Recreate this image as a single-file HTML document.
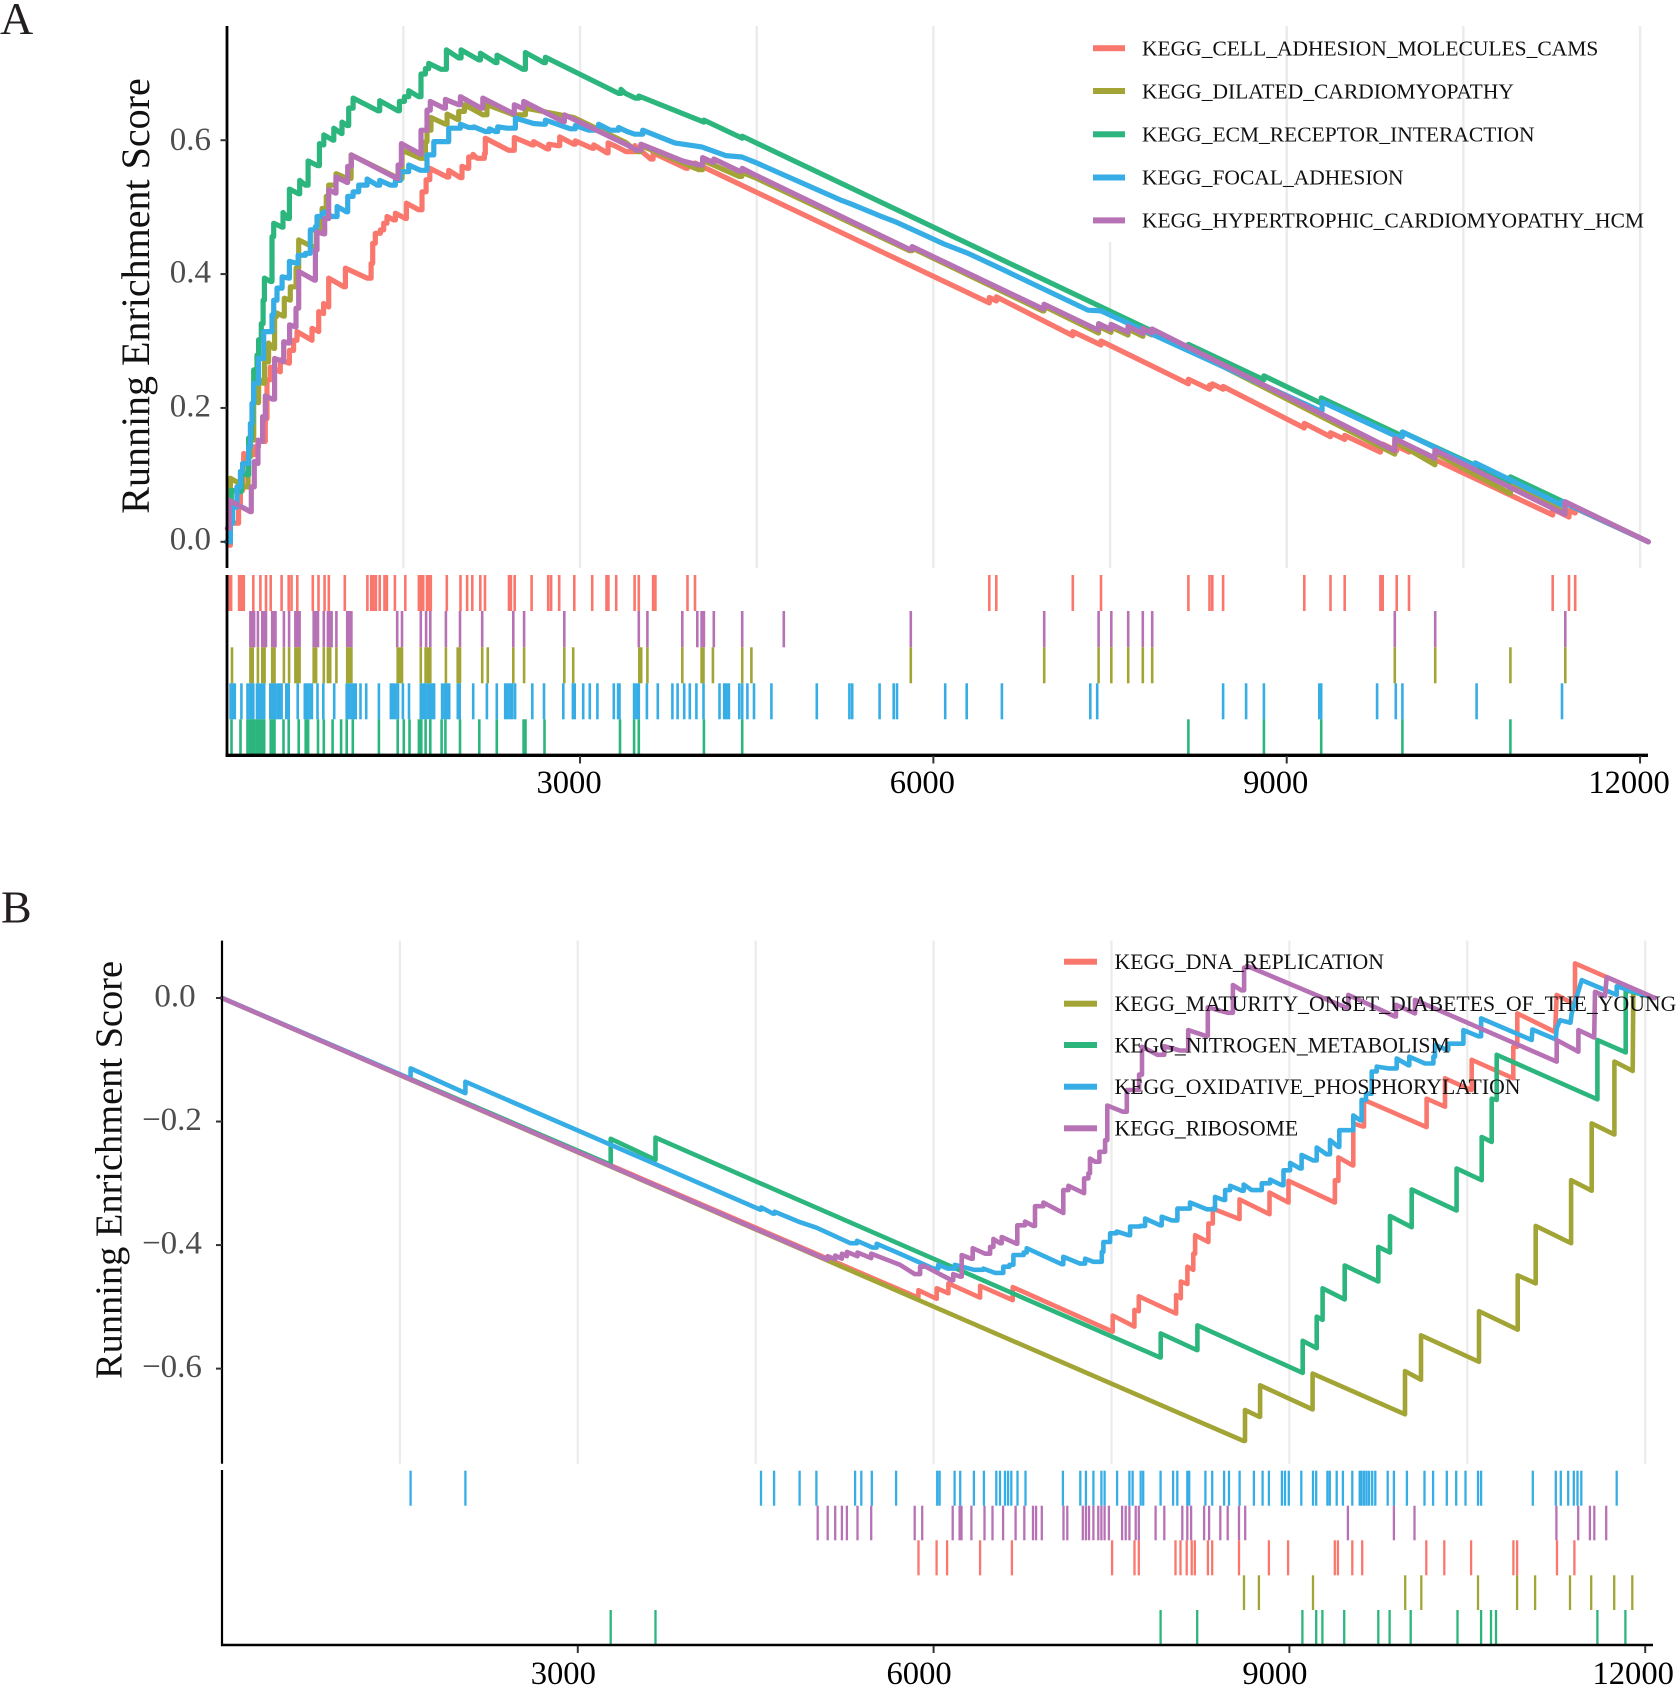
<!DOCTYPE html>
<html>
<head>
<meta charset="utf-8">
<title>GSEA running enrichment plots</title>
<style>
html,body{margin:0;padding:0;background:#fff;}
svg{display:block;font-family:"Liberation Serif",serif;}
</style>
</head>
<body>
<svg id="chart" xmlns="http://www.w3.org/2000/svg" width="1676" height="1685" viewBox="0 0 1676 1685">
<rect x="0" y="0" width="1676" height="1685" fill="#fff"/>
<g id="layer-a"></g>
<g id="layer-b"></g>

<text x="0" y="34" font-size="46" fill="#231f20">A</text>
<text x="1" y="922.5" font-size="46" fill="#231f20">B</text>
<text transform="translate(149,296) rotate(-90)" text-anchor="middle" font-size="40" fill="#111">Running Enrichment Score</text>
<text transform="translate(121.5,1170) rotate(-90)" text-anchor="middle" font-size="38.4" fill="#111">Running Enrichment Score</text>

<g>
<g><rect x="1093" y="45.2" width="32" height="6" fill="#f9776c"/><text x="1142" y="55.5" font-size="21.5" fill="#111">KEGG_CELL_ADHESION_MOLECULES_CAMS</text></g>
<g><rect x="1093" y="88" width="32" height="6" fill="#a2a535"/><text x="1142" y="98.5" font-size="21.5" fill="#111">KEGG_DILATED_CARDIOMYOPATHY</text></g>
<g><rect x="1093" y="131.3" width="32" height="6" fill="#2cb67d"/><text x="1142" y="141.5" font-size="21.5" fill="#111">KEGG_ECM_RECEPTOR_INTERACTION</text></g>
<g><rect x="1093" y="174.5" width="32" height="6" fill="#36aee5"/><text x="1142" y="184.5" font-size="21.5" fill="#111">KEGG_FOCAL_ADHESION</text></g>
<g><rect x="1093" y="217.4" width="32" height="6" fill="#b772b5"/><text x="1142" y="227.5" font-size="21.5" fill="#111">KEGG_HYPERTROPHIC_CARDIOMYOPATHY_HCM</text></g>
</g>

<g>
<g><rect x="1064" y="958.7" width="33" height="6" fill="#f9776c"/><text x="1114.5" y="969" font-size="21.75" fill="#111">KEGG_DNA_REPLICATION</text></g>
<g><rect x="1064" y="1000.7" width="33" height="6" fill="#a2a535"/><text x="1114.5" y="1011" font-size="21.75" fill="#111">KEGG_MATURITY_ONSET_DIABETES_OF_THE_YOUNG</text></g>
<g><rect x="1064" y="1042" width="33" height="6" fill="#2cb67d"/><text x="1114.5" y="1052.5" font-size="21.75" fill="#111">KEGG_NITROGEN_METABOLISM</text></g>
<g><rect x="1064" y="1083.7" width="33" height="6" fill="#36aee5"/><text x="1114.5" y="1094" font-size="21.75" fill="#111">KEGG_OXIDATIVE_PHOSPHORYLATION</text></g>
<g><rect x="1064" y="1125.3" width="33" height="6" fill="#b772b5"/><text x="1114.5" y="1135.5" font-size="21.75" fill="#111">KEGG_RIBOSOME</text></g>
</g>
</svg>

<script>
// ---- shared axis data ----
const gridRanks = [1500,3000,4500,6000,7500,9000,10500,12000];
const xTickValues = [3000,6000,9000,12000];
const xTickLabels = ["3000","6000","9000","12000"];
const yTickValuesA = [0,0.2,0.4,0.6];
const yTickLabelsA = ["0.0","0.2","0.4","0.6"];
const yTickValuesB = [0,-0.2,-0.4,-0.6];
const yTickLabelsB = ["0.0","\u22120.2","\u22120.4","\u22120.6"];

// ---- panel A curves ----
const aRedRanks = [10,31,101,116,135,144,172,229,270,328,342,370,370,455,455,526,532,568,597,724,724,781,781,823,823,866,866,994,1008,1192,1226,1240,1262,1305,1333,1361,1418,1432,1517,1526,1630,1658,1693,1724,1871,1885,1984,1998,2041,2055,2091,2126,2188,2196,2394,2442,2592,2606,2720,2734,2805,2827,2946,2960,3102,3116,3229,3238,3314,3390,3465,3600,3620,3900,3912,3976,3976,6475,6475,6534,6534,7184,7184,7423,7423,8165,8165,8344,8344,8368,8368,8460,8460,9149,9149,9372,9372,9492,9492,9795,9795,9815,9815,9934,9934,10038,10038,11258,11258,11397,11397,11449,11449,12070];
const aRedScores = [-.005,.028,.057,.077,.117,.132,.130,.142,.150,.184,.242,.244,.261,.254,.272,.267,.286,.301,.314,.301,.319,.314,.344,.341,.356,.351,.394,.381,.409,.394,.416,.446,.461,.466,.476,.486,.481,.491,.483,.506,.496,.523,.541,.558,.545,.555,.544,.561,.558,.575,.579,.573,.580,.603,.585,.604,.593,.598,.587,.594,.592,.605,.594,.599,.588,.593,.581,.596,.590,.583,.592,.572,.581,.558,.563,.558,.566,.357,.365,.360,.366,.308,.314,.294,.300,.236,.243,.228,.234,.232,.236,.228,.232,.170,.177,.157,.163,.153,.159,.134,.141,.139,.146,.136,.143,.134,.141,.040,.049,.037,.047,.043,.050,0];

const aOliveRanks = [0,31,158,181,201,229,266,271,305,322,356,399,407,421,484,489,540,540,583,589,611,725,760,810,846,866,909,928,1022,1056,1460,1489,1644,1687,1701,1735,1857,1871,1961,1970,2018,2176,2210,2437,2536,2946,3385,3485,3517,3873,4010,4041,4350,4373,4487,5796,5819,6928,6939,7403,7403,7508,7508,7652,7652,7779,7779,7856,7856,9918,9918,10258,10258,10899,10899,11365,11365,12070];
const aOliveScores = [0,.095,.082,.127,.152,.212,.208,.244,.237,.269,.297,.289,.336,.342,.337,.364,.361,.381,.381,.409,.451,.441,.465,.498,.516,.533,.533,.550,.543,.578,.543,.585,.573,.598,.615,.634,.624,.639,.631,.643,.653,.638,.653,.638,.648,.634,.597,.583,.592,.566,.556,.570,.546,.552,.544,.435,.439,.345,.352,.312,.322,.313,.321,.309,.318,.307,.315,.309,.316,.131,.150,.115,.133,.072,.086,.044,.059,0];

const aGreenRanks = [0,22,39,116,124,172,186,209,220,229,257,271,294,309,320,371,385,399,470,478,518,532,611,620,668,691,773,787,818,824,903,909,974,979,1022,1036,1073,1285,1299,1455,1466,1503,1509,1545,1630,1650,1687,1715,1820,1865,1970,1990,2140,2154,2281,2295,2516,2536,2692,2706,3328,3348,3385,3470,3499,4052,4052,4377,4377,8165,8165,8806,8806,9293,9293,9982,9982,10899,10899,12070];
const aGreenScores = [0,.032,.077,.075,.105,.100,.155,.177,.207,.257,.279,.302,.326,.361,.394,.389,.456,.476,.470,.492,.483,.527,.520,.540,.533,.569,.562,.595,.593,.608,.600,.618,.610,.627,.622,.648,.663,.644,.659,.644,.658,.658,.665,.674,.665,.699,.707,.715,.706,.735,.723,.735,.720,.730,.716,.727,.706,.731,.716,.724,.670,.676,.670,.663,.666,.627,.630,.603,.606,.289,.295,.242,.248,.207,.215,.158,.164,.090,.097,0];

const aBlueRanks = [0,31,51,87,116,116,135,172,186,201,215,229,271,314,370,385,399,427,470,526,532,597,606,668,710,753,767,810,824,894,937,1016,1027,1073,1121,1192,1277,1299,1390,1432,1475,1545,1644,1701,1758,1843,1885,1984,2055,2097,2196,2230,2281,2301,2380,2451,2606,2677,2706,2918,2960,3074,3158,3257,3327,3399,3464,3532,3804,4033,4237,4373,4487,5207,5298,5547,5680,6090,6294,6587,7313,7423,9279,9300,9936,9982,10590,10600,11336,11336,12070];
const aBlueScores = [0,.028,.052,.082,.087,.105,.117,.117,.142,.177,.207,.237,.274,.314,.314,.339,.361,.379,.396,.394,.419,.416,.428,.431,.466,.471,.486,.491,.493,.486,.501,.493,.516,.523,.533,.542,.533,.540,.533,.540,.553,.563,.555,.578,.598,.598,.618,.624,.619,.620,.613,.617,.613,.620,.618,.633,.625,.624,.630,.617,.622,.615,.624,.615,.619,.613,.609,.615,.596,.590,.577,.575,.567,.511,.505,.487,.478,.445,.431,.407,.346,.345,.196,.209,.157,.164,.113,.118,.055,.060,0];

const aPurpleRanks = [5,22,201,209,229,234,266,266,300,305,328,328,390,407,484,484,526,534,588,588,611,611,744,753,767,824,832,866,866,923,928,1022,1027,1059,1446,1455,1480,1483,1650,1650,1690,1701,1729,1843,1857,1970,1984,2159,2174,2431,2442,2508,2522,2856,2867,3399,3485,3517,3873,4010,4041,4127,4136,4350,4377,4487,5796,5819,6928,6939,7403,7403,7508,7508,7652,7652,7779,7779,7856,7856,9918,9918,10258,10258,11362,11362,12070];
const aPurpleScores = [.020,.062,.045,.082,.082,.120,.117,.152,.150,.187,.184,.218,.213,.274,.269,.299,.297,.324,.321,.349,.349,.404,.391,.436,.463,.460,.483,.486,.526,.521,.545,.537,.561,.578,.543,.563,.563,.595,.579,.615,.615,.645,.658,.648,.661,.653,.665,.648,.663,.640,.653,.648,.658,.628,.638,.593,.585,.594,.569,.563,.574,.567,.572,.554,.558,.548,.437,.441,.348,.355,.316,.326,.317,.325,.313,.322,.311,.319,.312,.318,.136,.154,.125,.137,.041,.060,0];

// ---- panel A rug hits (gene ranks) ----
const aRedHits = [21,37,105,125,145,226,286,334,374,466,526,550,599,731,779,831,867,1003,1195,1227,1247,1267,1299,1340,1360,1428,1516,1632,1652,1668,1701,1717,1733,1869,1985,2041,2085,2153,2193,2397,2413,2445,2589,2730,2754,2823,2951,3103,3225,3241,3307,3463,3499,3620,3640,3912,3976,6475,6534,7184,7423,8165,8344,8368,8460,9149,9372,9492,9795,9815,9934,10038,11258,11397,11449];
const aPurpleHits = [201,221,233,265,302,322,334,386,406,414,486,530,583,603,619,739,759,775,824,859,879,891,931,1023,1043,1059,1448,1488,1648,1693,1729,1861,1981,2169,2433,2525,2866,3499,3572,3868,3996,4032,4052,4136,4377,4730,5808,6941,7403,7511,7654,7778,7858,9918,10261,11365];
const aOliveHits = [45,201,221,265,302,322,386,406,486,530,583,603,619,739,759,824,859,879,931,1023,1043,1059,1452,1472,1488,1648,1689,1709,1729,1861,1961,1981,2169,2217,2433,2525,2866,2942,3503,3519,3572,3868,4032,4048,4128,4377,4455,5808,6941,7403,7511,7654,7778,7858,9918,10261,10899,11365];
const aBlueHits = [33,53,69,125,177,197,217,226,257,277,298,318,370,391,411,431,451,466,506,526,603,663,683,703,723,771,820,913,1019,1039,1059,1079,1095,1136,1184,1292,1394,1414,1434,1454,1496,1548,1648,1668,1689,1709,1729,1749,1761,1829,1849,1869,1889,1962,1978,2093,2209,2293,2365,2385,2405,2425,2449,2595,2694,2858,2939,2955,3027,3083,3147,3287,3323,3335,3459,3479,3499,3568,3660,3784,3828,3884,3932,3988,4048,4184,4224,4244,4264,4352,4377,4421,4477,4625,5010,5287,5311,5543,5663,5691,6100,6283,6582,7332,7391,8460,8655,8806,9277,9293,9767,9926,9982,10612,11337];
const aGreenHits = [41,117,177,197,217,237,257,277,298,318,374,394,406,482,526,611,671,691,775,824,899,971,1019,1071,1292,1452,1504,1552,1632,1652,1689,1729,1825,1857,1981,2145,2293,2521,2537,2698,3339,3459,3499,4052,4377,8165,8806,9293,9982,10899];

// ---- panel B curves ----
const bRedRanks = [0,5858,5872,6026,6026,6125,6125,6392,6392,6667,6667,7510,7510,7693,7693,7730,7730,8045,8045,8084,8084,8140,8140,8190,8190,8205,8317,8317,8354,8579,8579,8832,8832,8992,8992,9384,9384,9413,9413,9533,9539,9618,9629,10157,10157,10312,10312,10530,10537,10888,10888,10922,11240,11254,11408,11408,12080];
const bRedScores = [0,-.484,-.473,-.487,-.470,-.478,-.462,-.485,-.466,-.489,-.468,-.540,-.514,-.532,-.505,-.507,-.483,-.511,-.481,-.486,-.459,-.463,-.435,-.440,-.414,-.384,-.395,-.365,-.341,-.358,-.326,-.350,-.315,-.331,-.296,-.331,-.295,-.296,-.258,-.271,-.203,-.208,-.165,-.209,-.163,-.176,-.130,-.149,-.100,-.130,-.079,-.025,-.055,.005,-.011,.056,0];

const bOliveRanks = [0,8612,8626,8747,8753,9196,9196,9975,9975,10110,10110,10599,10599,10925,10925,11077,11077,11375,11375,11549,11549,11740,11740,11895,11900,12080];
const bOliveScores = [0,-.717,-.667,-.678,-.627,-.666,-.608,-.674,-.604,-.618,-.546,-.589,-.507,-.537,-.449,-.462,-.369,-.397,-.295,-.312,-.203,-.221,-.103,-.118,.010,0];

const bGreenRanks = [0,3277,3277,3655,3655,7910,7915,8219,8224,9112,9112,9230,9230,9280,9280,9466,9466,9750,9750,9848,9848,10031,10031,10410,10410,10621,10621,10706,10706,10748,10748,11597,11597,11836,11836,12080];
const bGreenScores = [0,-.270,-.228,-.262,-.226,-.582,-.543,-.570,-.530,-.607,-.555,-.567,-.516,-.521,-.470,-.488,-.433,-.459,-.403,-.412,-.353,-.371,-.310,-.344,-.276,-.295,-.225,-.233,-.163,-.165,-.092,-.164,-.068,-.088,.013,0];

const bBlueRanks = [0,1590,1590,2052,2052,4538,4546,4646,4660,4874,5015,5298,5355,5486,5520,5717,5998,6040,6120,6180,6340,6420,6518,6588,6640,6673,6760,6785,7080,7094,7235,7277,7347,7418,7432,7488,7544,7643,7657,7741,7783,7910,7923,8008,8056,8162,8303,8373,8444,8458,8500,8600,8615,8683,8767,8837,8936,8950,9006,9089,9103,9202,9230,9314,9342,9413,9421,9525,9539,9595,9609,9646,9694,9736,9834,9905,10003,10011,10143,10214,10228,10326,10340,10467,10593,10616,11043,11049,11245,11254,11282,11370,11380,11465,11760,11760,12080];
const bBlueScores = [0,-.131,-.114,-.154,-.1355,-.3426,-.339,-.349,-.346,-.363,-.372,-.397,-.393,-.404,-.398,-.414,-.438,-.432,-.438,-.432,-.440,-.438,-.445,-.435,-.432,-.416,-.412,-.405,-.431,-.419,-.430,-.422,-.427,-.411,-.395,-.381,-.378,-.384,-.370,-.369,-.357,-.368,-.354,-.360,-.341,-.331,-.342,-.322,-.327,-.311,-.304,-.312,-.302,-.311,-.300,-.294,-.303,-.279,-.267,-.276,-.254,-.263,-.242,-.253,-.230,-.241,-.214,-.214,-.190,-.198,-.165,-.155,-.119,-.111,-.114,-.098,-.109,-.095,-.106,-.095,-.076,-.084,-.074,-.052,-.062,-.033,-.068,-.051,-.067,-.049,-.036,-.040,-.025,.029,.005,.019,0];

const bPurpleRanks = [0,5023,5107,5107,5170,5170,5227,5227,5269,5269,5358,5358,5474,5474,5717,5841,5886,5914,6153,6165,6223,6237,6316,6330,6434,6476,6504,6560,6574,6701,6706,6771,6841,6855,6926,7094,7094,7137,7269,7269,7305,7319,7361,7398,7437,7446,7465,7596,7629,7733,7757,7888,7945,8077,8147,8289,8312,8480,8524,8595,8618,8642,9497,9497,9890,9899,10059,10059,11254,11254,11437,11437,11570,11577,11661,11675,12080];
const bPurpleScores = [0,-.417,-.424,-.418,-.423,-.417,-.422,-.414,-.418,-.411,-.418,-.412,-.421,-.414,-.432,-.447,-.435,-.433,-.457,-.447,-.451,-.416,-.422,-.405,-.414,-.403,-.390,-.397,-.387,-.398,-.368,-.362,-.369,-.337,-.331,-.348,-.311,-.304,-.316,-.292,-.284,-.260,-.265,-.249,-.249,-.230,-.174,-.184,-.149,-.124,-.079,-.092,-.078,-.085,-.052,-.061,-.015,-.024,.021,.0125,.049,.052,-.017,.005,-.030,-.011,-.025,-.003,-.103,-.068,-.087,-.052,-.064,.010,.003,.034,0];

// ---- panel B rug hits (gene ranks) ----
const bBlueHits = [1590,2052,4545,4655,4870,5012,5338,5390,5479,5684,6030,6051,6177,6224,6340,6424,6529,6560,6602,6628,6655,6707,6775,7090,7237,7284,7347,7415,7442,7547,7651,7678,7746,7767,7914,8019,8055,8139,8155,8292,8349,8449,8491,8580,8701,8774,8827,8937,8963,8995,9100,9199,9226,9320,9341,9399,9451,9530,9593,9609,9630,9651,9672,9698,9724,9829,9881,9991,10139,10212,10327,10406,10485,10590,10616,11052,11246,11288,11351,11398,11429,11461,11760];
const bPurpleHits = [5023,5107,5170,5227,5269,5358,5474,5841,5904,6161,6219,6235,6319,6429,6497,6586,6691,6765,6838,6864,6912,7095,7127,7258,7284,7310,7347,7389,7415,7442,7478,7589,7620,7651,7704,7730,7872,7945,8097,8139,8171,8281,8323,8417,8480,8575,8627,9493,9881,10055,11251,11435,11534,11571,11671];
const bRedHits = [5873,6025,6114,6392,6660,7505,7694,7730,8040,8082,8134,8176,8202,8313,8349,8575,8827,8989,9383,9409,9530,9614,10154,10306,10532,10889,10920,11256,11403];
const bOliveHits = [8617,8743,9199,9976,10112,10590,10920,11072,11366,11545,11739,11891];
const bGreenHits = [3277,3655,7914,8223,9110,9226,9278,9462,9750,9845,10023,10417,10616,10700,10742,11597,11833];

const RED = "#f9776c", OLIVE = "#a2a535", GREEN = "#2cb67d", BLUE = "#36aee5", PURPLE = "#b772b5";
const NS = "http://www.w3.org/2000/svg";

function xA(v){ return 226.7 + 0.11778 * v; }
function yA(v){ return 541.8 - 669.3 * v; }
function xB(v){ return 222 + 0.1186 * v; }
function yB(v){ return 998 - 617.7 * v; }

function mk(tag, parent){
  const el = document.createElementNS(NS, tag);
  parent.appendChild(el);
  return el;
}

function drawLine(parent, x1, y1, x2, y2, color, w, name){
  const el = mk("line", parent);
  el.setAttribute("x1", x1);
  el.setAttribute("y1", y1);
  el.setAttribute("x2", x2);
  el.setAttribute("y2", y2);
  el.setAttribute("stroke", color);
  el.setAttribute("stroke-width", w);
  
  
  return el;
}

// Running scores only rise at a gene hit, so rising segments are drawn as steps.
function drawCurve(parent, ranks, scores, xf, yf, color, w, name){
  const n = Math.min(ranks.length, scores.length);
  let d = "";
  for (let i = 0; i < n; i++){
    const x = xf(ranks[i]).toFixed(1);
    const y = yf(scores[i]).toFixed(1);
    if (i && scores[i] > scores[i - 1] && ranks[i] > ranks[i - 1] && ranks[i] < 11000) {
      d += "L" + x + " " + yf(scores[i - 1]).toFixed(1);
    }
    d += (i ? "L" : "M") + x + " " + y;
  }
  const el = mk("path", parent);
  el.setAttribute("d", d);
  el.setAttribute("fill", "none");
  el.setAttribute("stroke", color);
  el.setAttribute("stroke-width", w);
  el.setAttribute("stroke-linejoin", "round");
  el.setAttribute("stroke-linecap", "round");
  
  
}

function drawRug(parent, hits, xf, top, bottom, color, w, name){
  const g = mk("g", parent);
  
  
  hits.forEach(function(h){
    drawLine(g, xf(h).toFixed(1), top, xf(h).toFixed(1), bottom, color, w, "rug-tick");
  });
}

function drawLabel(parent, x, y, txt, size, color, anchor, name){
  const el = mk("text", parent);
  el.setAttribute("x", x);
  el.setAttribute("y", y);
  el.setAttribute("font-size", size);
  el.setAttribute("fill", color);
  el.setAttribute("text-anchor", anchor);
  
  
  el.textContent = txt;
}

// ---------- Panel A ----------
const pa = document.getElementById("layer-a");
gridRanks.forEach(function(r){
  const top = (r === 7500) ? 242 : 26;
  drawLine(pa, xA(r), top, xA(r), 568, "#ebebeb", 2.4, "grid-line-a");
});
drawRug(pa, aRedHits, xA, 575, 611, RED, 2.6, "rug-cell-adhesion");
drawRug(pa, aPurpleHits, xA, 611, 647.3, PURPLE, 2.6, "rug-hcm");
drawRug(pa, aOliveHits, xA, 647.3, 683.3, OLIVE, 2.6, "rug-dilated");
drawRug(pa, aBlueHits, xA, 683.3, 719.3, BLUE, 2.6, "rug-focal");
drawRug(pa, aGreenHits, xA, 719.3, 755.3, GREEN, 2.6, "rug-ecm");
drawCurve(pa, aRedRanks, aRedScores, xA, yA, RED, 5.2, "curve-cell-adhesion");
drawCurve(pa, aOliveRanks, aOliveScores, xA, yA, OLIVE, 5.2, "curve-dilated");
drawCurve(pa, aGreenRanks, aGreenScores, xA, yA, GREEN, 5.2, "curve-ecm");
drawCurve(pa, aBlueRanks, aBlueScores, xA, yA, BLUE, 5.2, "curve-focal");
drawCurve(pa, aPurpleRanks, aPurpleScores, xA, yA, PURPLE, 5.2, "curve-hcm");
drawLine(pa, 227, 26, 227, 568, "#000", 2.8, "y-axis-line-a");
drawLine(pa, 227, 575, 227, 757, "#000", 2.8, "rug-axis-line-a");
drawLine(pa, 225.6, 755.3, 1648, 755.3, "#000", 3.4, "x-axis-line-a");
yTickValuesA.forEach(function(v, i){
  drawLine(pa, 220.5, yA(v), 227, yA(v), "#333", 2, "y-tick-a");
  drawLabel(pa, 211, yA(v) + (i === 3 ? 10 : i === 0 ? 7.5 : 8.5), yTickLabelsA[i], 33, "#4d4d4d", "end", "y-tick-label-a");
});
xTickValues.forEach(function(v, i){
  drawLine(pa, xA(v), 756, xA(v), 763.5, "#333", 2, "x-tick-a");
  drawLabel(pa, xA(v) - 11, 793, xTickLabels[i], 32.6, "#000", "middle", "x-tick-label-a");
});

// ---------- Panel B ----------
const pb = document.getElementById("layer-b");
gridRanks.forEach(function(r){
  drawLine(pb, xB(r), 940.6, xB(r), 1463.7, "#ebebeb", 2.2, "grid-line-b");
});
drawRug(pb, bBlueHits, xB, 1470.7, 1505.7, BLUE, 2.3, "rug-oxphos");
drawRug(pb, bPurpleHits, xB, 1505.7, 1540.3, PURPLE, 2.3, "rug-ribosome");
drawRug(pb, bRedHits, xB, 1540.3, 1575.3, RED, 2.3, "rug-dna");
drawRug(pb, bOliveHits, xB, 1575.3, 1610, OLIVE, 2.3, "rug-mody");
drawRug(pb, bGreenHits, xB, 1610, 1644.5, GREEN, 2.3, "rug-nitrogen");
drawCurve(pb, bRedRanks, bRedScores, xB, yB, RED, 4.6, "curve-dna");
drawCurve(pb, bOliveRanks, bOliveScores, xB, yB, OLIVE, 4.6, "curve-mody");
drawCurve(pb, bGreenRanks, bGreenScores, xB, yB, GREEN, 4.6, "curve-nitrogen");
drawCurve(pb, bBlueRanks, bBlueScores, xB, yB, BLUE, 4.6, "curve-oxphos");
drawCurve(pb, bPurpleRanks, bPurpleScores, xB, yB, PURPLE, 4.6, "curve-ribosome");
drawLine(pb, 222, 940.6, 222, 1463.7, "#000", 2.2, "y-axis-line-b");
drawLine(pb, 222, 1470, 222, 1646, "#000", 2.2, "rug-axis-line-b");
drawLine(pb, 221, 1645, 1653, 1645, "#000", 2.6, "x-axis-line-b");
yTickValuesB.forEach(function(v, i){
  drawLine(pb, 216, yB(v), 222, yB(v), "#333", 2, "y-tick-b");
  drawLabel(pb, i === 0 ? 175 : 172, yB(v) + 8.5, yTickLabelsB[i], 33, "#4d4d4d", "middle", "y-tick-label-b");
});
xTickValues.forEach(function(v, i){
  drawLine(pb, xB(v), 1646, xB(v), 1653, "#333", 2, "x-tick-b");
  drawLabel(pb, xB(v) - (i === 3 ? 12 : 14.5), 1684, xTickLabels[i], 32.6, "#000", "middle", "x-tick-label-b");
});
</script>
</body>
</html>
